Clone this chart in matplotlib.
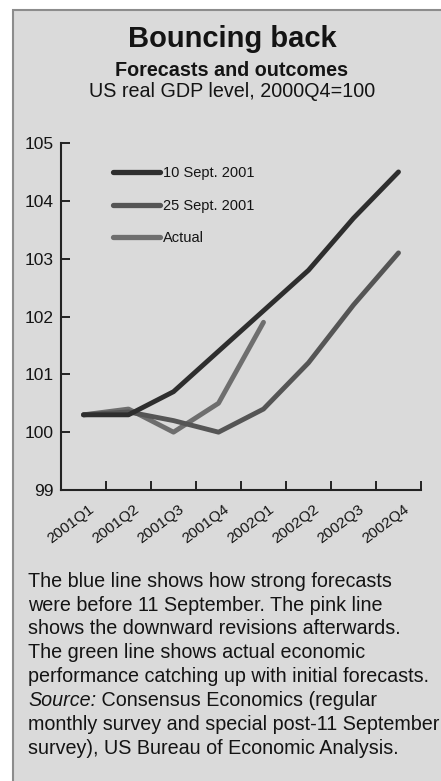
import matplotlib
matplotlib.use('Agg')
import matplotlib.pyplot as plt
from matplotlib import font_manager
from matplotlib.patches import Rectangle
from matplotlib.transforms import ScaledTranslation

# quarters and GDP level (2000Q4 = 100)
quarters = ['2001Q1', '2001Q2', '2001Q3', '2001Q4',
            '2002Q1', '2002Q2', '2002Q3', '2002Q4']
sept10 = [100.3, 100.3, 100.7, 101.4, 102.1, 102.8, 103.7, 104.5]
sept25 = [100.3, 100.35, 100.2, 100.0, 100.4, 101.2, 102.2, 103.1]
actual = [100.3, 100.4, 100.0, 100.5, 101.9]
yticks = [99, 100, 101, 102, 103, 104, 105]

caption = [
    'The blue line shows how strong forecasts',
    'were before 11 September. The pink line',
    'shows the downward revisions afterwards.',
    'The green line shows actual economic',
    'performance catching up with initial forecasts.',
]
source_rest = [
    ' Consensus Economics (regular',
    'monthly survey and special post-11 September',
    'survey), US Bureau of Economic Analysis.',
]


def pick_font(names):
    for name in names:
        try:
            font_manager.findfont(name, fallback_to_default=False)
            return name
        except Exception:
            pass
    return 'DejaVu Sans'


SANS = pick_font(['Liberation Sans', 'Arial'])
NARROW = pick_font(['Liberation Sans Narrow', 'Arial Narrow', 'Liberation Sans'])
plt.rcParams['font.family'] = SANS
INK = '#141414'

W, H = 441, 781
fig = plt.figure(figsize=(W / 100, H / 100), dpi=100, facecolor='white')

# grey panel with a thin border
fig.patches.append(Rectangle((13 / W, -0.05), 1.0, 1 - 10 / H + 0.05,
                             transform=fig.transFigure, facecolor='#dadada',
                             edgecolor='#8c8c8c', linewidth=1.5, zorder=-5))

fig.text(232 / W, 1 - 47 / H, 'Bouncing back', ha='center', va='baseline',
         fontsize=21, fontweight='bold', color=INK)
fig.text(232 / W, 1 - 76 / H, 'Forecasts and outcomes', ha='center',
         va='baseline', fontsize=14.2, fontweight='bold', color=INK)
fig.text(232 / W, 1 - 97 / H, 'US real GDP level, 2000Q4=100', ha='center',
         va='baseline', fontsize=14.2, color=INK)

ax = fig.add_axes([61 / W, 1 - 490 / H, 360 / W, 347 / H])
ax.patch.set_visible(False)

x = list(range(len(quarters)))
ax.plot(x, sept10, color='#2e2e2e', lw=3.5, solid_capstyle='round',
        solid_joinstyle='round', label='10 Sept. 2001', zorder=3)
ax.plot(x, sept25, color='#555555', lw=3.5, solid_capstyle='round',
        solid_joinstyle='round', label='25 Sept. 2001', zorder=2)
ax.plot(x[:len(actual)], actual, color='#6e6e6e', lw=3.5,
        solid_capstyle='round', solid_joinstyle='round', label='Actual',
        zorder=1)

ax.set_xlim(-0.5, len(quarters) - 0.5)
ax.set_ylim(99, 105)
ax.set_yticks(yticks)
ax.set_yticklabels([str(v) for v in yticks], fontfamily=NARROW, fontsize=12.5)
ax.set_xticks([i - 0.5 for i in range(len(quarters) + 1)])
ax.set_xticklabels([])
ax.set_xticks(x, minor=True)
ax.set_xticklabels(quarters, minor=True, rotation=37, ha='right', va='top',
                   rotation_mode='anchor', fontfamily=NARROW, fontsize=11)
ax.tick_params(axis='x', which='minor', length=0, pad=8.5)
ax.tick_params(axis='x', which='major', direction='in', length=6.5,
               width=1.4, color='#222222')
ax.tick_params(axis='y', direction='in', length=6.5, width=1.4,
               color='#222222', pad=5.5, labelcolor=INK)
for lab in ax.get_xticklabels(minor=True):
    lab.set_color(INK)
    lab.set_transform(lab.get_transform() +
                      ScaledTranslation(0.05, 0, fig.dpi_scale_trans))

for side in ('top', 'right'):
    ax.spines[side].set_visible(False)
for side in ('left', 'bottom'):
    ax.spines[side].set_linewidth(1.5)
    ax.spines[side].set_color('#222222')

leg = ax.legend(loc='upper left', bbox_to_anchor=(113 / W, 1 - 166 / H),
                bbox_transform=fig.transFigure, frameon=False, borderpad=0,
                borderaxespad=0, handlelength=3.2, handletextpad=0.25,
                labelspacing=1.28, prop={'family': NARROW, 'size': 10.5})
for line in leg.get_lines():
    line.set_linewidth(3.8)
for t in leg.get_texts():
    t.set_color(INK)

# caption and source note
y0, step = 586.7, 23.9
for i, line in enumerate(caption):
    fig.text(28 / W, 1 - (y0 + i * step) / H, line, fontsize=14.2,
             color=INK, va='baseline')
k = len(caption)
src = fig.text(28 / W, 1 - (y0 + k * step) / H, 'Source:', fontsize=14.2,
               fontstyle='italic', color=INK, va='baseline')
fig.canvas.draw()
rest = fig.text(0, 0, source_rest[0], fontsize=14.2, color=INK, va='baseline')
bb = src.get_window_extent(fig.canvas.get_renderer())
rest.set_position((bb.x1 / fig.bbox.width, 1 - (y0 + k * step) / H))
for j, line in enumerate(source_rest[1:], start=1):
    fig.text(28 / W, 1 - (y0 + (k + j) * step) / H, line, fontsize=14.2,
             color=INK, va='baseline')

fig.savefig('out.png', dpi=100, facecolor='white')
